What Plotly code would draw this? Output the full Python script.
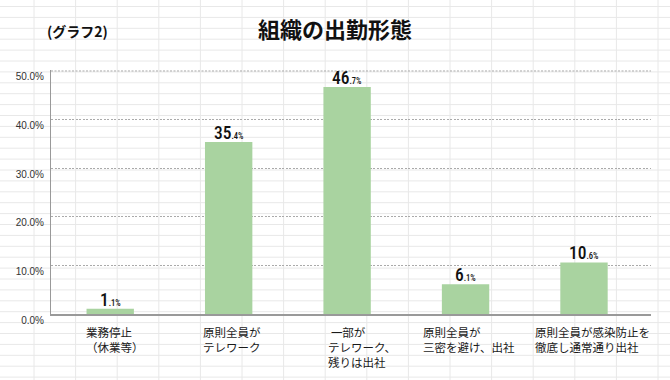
import plotly.graph_objects as go

# ---- data ----
categories = [
    "業務停止<br>（休業等）",
    "原則全員が<br>テレワーク",
    "\u2005一部が<br>テレワーク、<br>残りは出社",
    "原則全員が<br>三密を避け、出社",
    "原則全員が感染防止を<br>徹底し通常通り出社",
]
values = [1.1, 35.4, 46.7, 6.1, 10.6]
y_tick_vals = [0, 10, 20, 30, 40, 50]
y_tick_labels = ["0.0%", "10.0%", "20.0%", "30.0%", "40.0%", "50.0%"]
title_text = "組織の出勤形態"
subtitle_text = "(グラフ2)"

# ---- style / layout constants ----
W, H = 670, 380
L, R, T, B = 51, 19, 70, 66
PW, PH = W - L - R, H - T - B
label_xshift = [-25, -27, -20, -44, -50]
bar_color = "#a9d3a0"
grid_color = "#aaa"
grid_dash = "2px,1.5px"
jp_font = "Noto Sans CJK JP"
num_font = "Roboto Condensed, DejaVu Sans Condensed, Liberation Sans Narrow, Roboto, sans-serif"


def px_x(px):
    return (px - L) / PW


def px_y(py):
    return (H - B - py) / PH


fig = go.Figure()
fig.add_trace(go.Bar(
    x=categories, y=values, width=0.4,
    marker=dict(color=bar_color, line=dict(width=0)),
    hoverinfo="skip",
))

# spreadsheet-like background grid
shapes = []
for k in range(16):
    x = px_x(34 + 41.6 * k)
    shapes.append(dict(type="line", xref="paper", yref="paper", x0=x, x1=x,
                       y0=px_y(0), y1=px_y(H), layer="below",
                       line=dict(color="#e8e8e8", width=1)))
for k in range(35):
    y = px_y(6.5 + 10.9 * k)
    shapes.append(dict(type="line", xref="paper", yref="paper", y0=y, y1=y,
                       x0=px_x(0), x1=px_x(W), layer="below",
                       line=dict(color="#e8e8e8", width=1)))
# top gridline (plotly drops the grid line at the edge of the range)
shapes.append(dict(type="line", xref="paper", yref="y", x0=0, x1=1,
                   y0=y_tick_vals[-1], y1=y_tick_vals[-1], layer="below",
                   line=dict(color=grid_color, width=1, dash=grid_dash)))

annotations = []
# value labels
for c, v in zip(categories, values):
    s = f"{v:.1f}"
    a, b = s.split(".")
    annotations.append(dict(
        x=c, y=v, xref="x", yref="y", showarrow=False,
        xanchor="center", yanchor="bottom", yshift=-2, borderpad=0,
        text=f"{a}<span style='font-size:8.5px'>.{b}%</span>",
        font=dict(family=num_font, size=17.5, color="#111", weight=500),
    ))
# category labels
for c, dx in zip(categories, label_xshift):
    annotations.append(dict(
        x=c, y=0, xref="x", yref="paper", showarrow=False,
        xanchor="left", yanchor="top", xshift=dx, yshift=-9, borderpad=0,
        align="left", text=c,
        font=dict(family=jp_font, size=11.5, color="#1a1a1a"),
    ))
# "(グラフ2)"
annotations.append(dict(
    x=px_x(46), y=px_y(30.5), xref="paper", yref="paper", showarrow=False,
    xanchor="left", yanchor="middle", borderpad=0, text=subtitle_text,
    font=dict(family=jp_font, size=14, color="#111", weight=700),
))

fig.update_layout(
    width=W, height=H, autosize=False,
    margin=dict(l=L, r=R, t=T, b=B, pad=0),
    paper_bgcolor="white", plot_bgcolor="rgba(0,0,0,0)",
    showlegend=False,
    title=dict(text=title_text, x=0.5, xref="container", xanchor="center",
               y=1 - 30 / H, yref="container", yanchor="middle",
               font=dict(family=jp_font, size=22, color="#111", weight=700)),
    xaxis=dict(showticklabels=False, showgrid=False, zeroline=False,
               showline=True, linecolor="#999", linewidth=1.5, ticks=""),
    yaxis=dict(range=[0, 50.2], tickvals=y_tick_vals, ticktext=y_tick_labels,
               showgrid=True, gridcolor=grid_color, gridwidth=1, griddash=grid_dash,
               zeroline=False, showline=True, linecolor="#999", linewidth=1,
               ticks="", ticklabelstandoff=4, ticklabelshift=6,
               tickfont=dict(family="Liberation Sans, Arial, sans-serif", size=10, color="#333")),
    shapes=shapes,
    annotations=annotations,
    bargap=0.6,
)

fig.write_html("out.html", config={"displayModeBar": False},
               post_script="document.body.style.margin='0';")
